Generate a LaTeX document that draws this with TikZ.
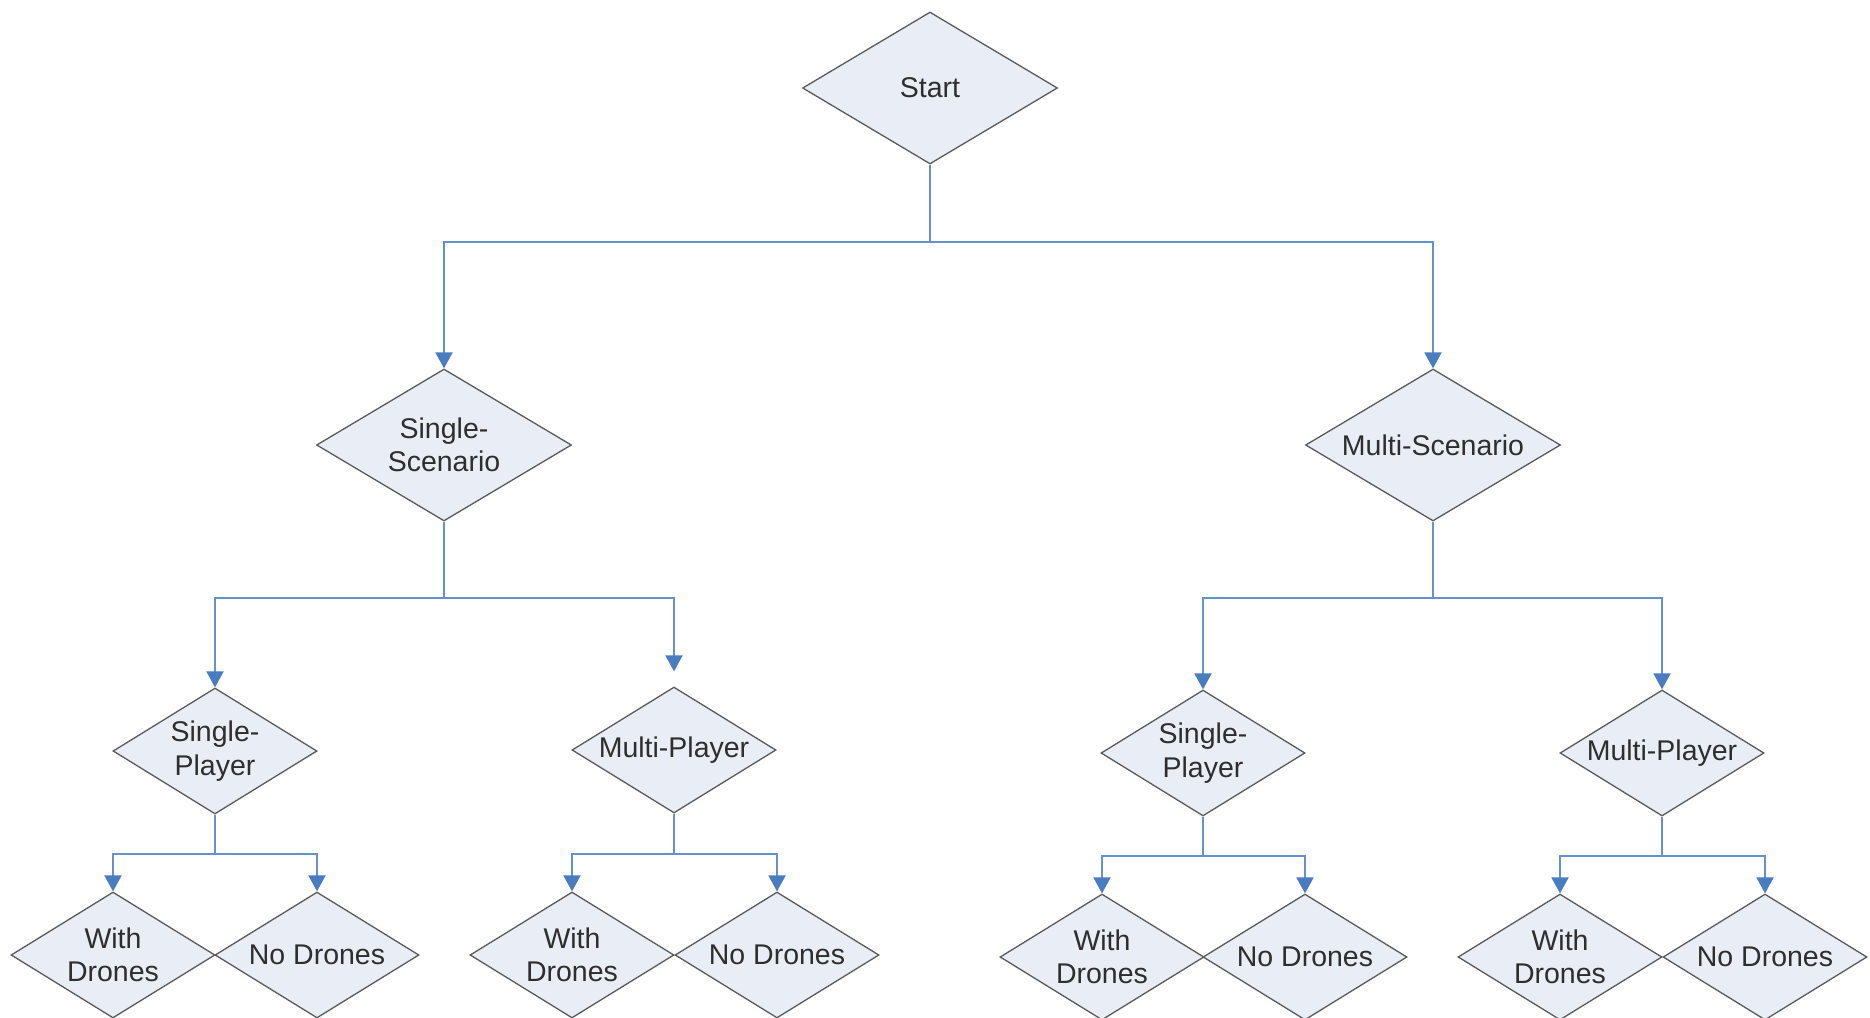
\documentclass[tikz,border=0pt]{standalone}
\usepackage{fontspec}
\setmainfont{Liberation Sans}
\usetikzlibrary{shapes.geometric,arrows.meta}
\definecolor{dfill}{HTML}{E9EDF5}
\definecolor{dline}{HTML}{5A5A5A}
\definecolor{cblue}{HTML}{6592CC}
\definecolor{ablue}{HTML}{4A7CC0}
\definecolor{txt}{HTML}{2E2E2E}
\tikzset{
  dbase/.style={diamond, draw=dline, fill=dfill, line width=1.3pt, inner sep=0pt,
    text=txt, align=center, font=\fontsize{28.5}{33.5}\selectfont},
  dbig/.style={dbase, minimum width=255pt, minimum height=152pt, aspect=1.67},
  dsmall/.style={dbase, minimum width=204pt, minimum height=126pt, aspect=1.62},
  conn/.style={draw=cblue, line width=2pt},
  arr/.style={conn, -{Triangle[width=17pt,length=16pt,color=ablue]}}
}
\begin{document}
\begin{tikzpicture}[x=1pt,y=-1pt]
\path[use as bounding box, clip] (0,0) rectangle (1870,1017);
\fill[white] (0,0) rectangle (1870,1017);

% level 0
\node[dbig] (start) at (930,88) {Start};
% level 1
\node[dbig] (ss) at (444,445) {Single-\\Scenario};
\node[dbig] (ms) at (1433,445) {Multi-Scenario};
% level 2
\node[dsmall] (lsp) at (215,751) {Single-\\Player};
\node[dsmall] (lmp) at (674,750) {Multi-Player};
\node[dsmall] (rsp) at (1203,753) {Single-\\Player};
\node[dsmall] (rmp) at (1662,753) {Multi-Player};
% level 3
\node[dsmall] (lspw) at (113,955) {With\\Drones};
\node[dsmall] (lspn) at (317,955) {No Drones};
\node[dsmall] (lmpw) at (572,955) {With\\Drones};
\node[dsmall] (lmpn) at (777,955) {No Drones};
\node[dsmall] (rspw) at (1102,957) {With\\Drones};
\node[dsmall] (rspn) at (1305,957) {No Drones};
\node[dsmall] (rmpw) at (1560,957) {With\\Drones};
\node[dsmall] (rmpn) at (1765,957) {No Drones};

% junctions
\coordinate (j0) at (930,242);
\coordinate (j1) at (444,598);
\coordinate (j2) at (1433,598);
\coordinate (j3) at (215,854);
\coordinate (j4) at (674,854);
\coordinate (j5) at (1203,856);
\coordinate (j6) at (1662,856);

\draw[conn] (start.south) -- (j0);
\draw[arr] (j0) -| (ss.north);
\draw[arr] (j0) -| (ms.north);

\draw[conn] (ss.south) -- (j1);
\draw[arr] (j1) -| (lsp.north);
\draw[arr, shorten >=15pt] (j1) -| (lmp.north);

\draw[conn] (ms.south) -- (j2);
\draw[arr] (j2) -| (rsp.north);
\draw[arr] (j2) -| (rmp.north);

\draw[conn] (lsp.south) -- (j3);
\draw[arr] (j3) -| (lspw.north);
\draw[arr] (j3) -| (lspn.north);

\draw[conn] (lmp.south) -- (j4);
\draw[arr] (j4) -| (lmpw.north);
\draw[arr] (j4) -| (lmpn.north);

\draw[conn] (rsp.south) -- (j5);
\draw[arr] (j5) -| (rspw.north);
\draw[arr] (j5) -| (rspn.north);

\draw[conn] (rmp.south) -- (j6);
\draw[arr] (j6) -| (rmpw.north);
\draw[arr] (j6) -| (rmpn.north);
\end{tikzpicture}
\end{document}
